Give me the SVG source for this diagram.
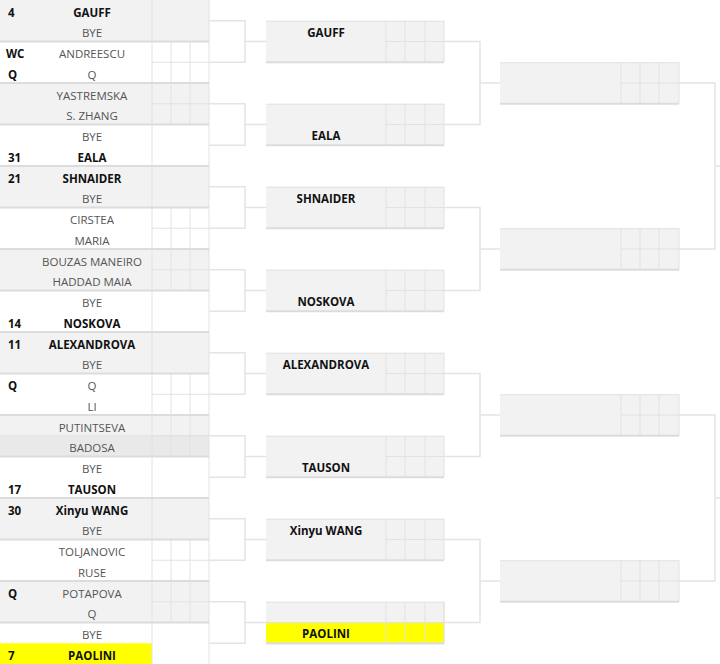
<svg xmlns="http://www.w3.org/2000/svg" width="720" height="664" viewBox="0 0 720 664">
<style>
  text { font-family: "Open Sans", "Liberation Sans", sans-serif; font-size: 11.5px; }
  .nm { text-anchor: middle; fill: #555555; }
  .b { font-weight: bold; fill: #111; }
  .sd { font-weight: bold; fill: #111; }
  .g { fill: #f2f2f2; }
  .g2 { fill: #e9e9e9; }
  .w { fill: #ffffff; }
  .y { fill: #ffff00; }
  .ln { stroke: #e2e2e2; stroke-width: 1; fill: none; }
  .sep { stroke: #dcdcdc; stroke-width: 2; fill: none; }
  .con { stroke: #e4e4e4; stroke-width: 1.5; fill: none; }
  .box { fill: #f2f2f2; }
</style>
<rect x="0" y="0" width="720" height="664" fill="#ffffff"/>

<g id="r1">
  <!-- match backgrounds -->
  <rect class="g" x="0" y="0" width="209" height="41.5"/>
  <rect class="w" x="0" y="41.5" width="209" height="41.5"/>
  <rect class="g" x="0" y="83" width="209" height="41.5"/>
  <rect class="w" x="0" y="124.5" width="209" height="41.5"/>
  <rect class="g" x="0" y="166" width="209" height="41.5"/>
  <rect class="w" x="0" y="207.5" width="209" height="41.5"/>
  <rect class="g" x="0" y="249" width="209" height="41.5"/>
  <rect class="w" x="0" y="290.5" width="209" height="41.5"/>
  <rect class="g" x="0" y="332" width="209" height="41.5"/>
  <rect class="w" x="0" y="373.5" width="209" height="41.5"/>
  <rect class="g" x="0" y="415" width="209" height="20.75"/>
  <rect class="g2" x="0" y="435.75" width="209" height="20.75"/>
  <rect class="w" x="0" y="456.5" width="209" height="41.5"/>
  <rect class="g" x="0" y="498" width="209" height="41.5"/>
  <rect class="w" x="0" y="539.5" width="209" height="41.5"/>
  <rect class="g" x="0" y="581" width="209" height="41.5"/>
  <rect class="w" x="0" y="622.5" width="209" height="41.5"/>
  <rect class="y" x="0" y="643.25" width="152" height="20.75"/>

  <!-- column lines -->
  <path class="ln" d="M152 0V664M209 0V664"/>
  <!-- score grids for played matches -->
  <path class="ln" d="M171 41.5V124.5M190 41.5V124.5M152 62.25H209M152 103.75H209"/>
  <path class="ln" d="M171 207.5V290.5M190 207.5V290.5M152 228.25H209M152 269.75H209"/>
  <path class="ln" d="M171 373.5V456.5M190 373.5V456.5M152 394.25H209M152 435.75H209"/>
  <path class="ln" d="M171 539.5V622.5M190 539.5V622.5M152 560.25H209M152 601.75H209"/>
  <!-- match separators -->
  <path class="sep" d="M0 41.5H209M0 83H209M0 124.5H209M0 166H209M0 207.5H209M0 249H209M0 290.5H209M0 332H209M0 373.5H209M0 415H209M0 456.5H209M0 498H209M0 539.5H209M0 581H209M0 622.5H209"/>
  <path class="ln" d="M0 435.75H209"/>

  <!-- seeds -->
  <text class="sd" x="8" y="17">4</text>
  <text class="sd" x="6" y="58">WC</text>
  <text class="sd" x="8" y="79">Q</text>
  <text class="sd" x="8" y="162">31</text>
  <text class="sd" x="8" y="183">21</text>
  <text class="sd" x="8" y="328">14</text>
  <text class="sd" x="8" y="349">11</text>
  <text class="sd" x="8" y="390">Q</text>
  <text class="sd" x="8" y="494">17</text>
  <text class="sd" x="8" y="515">30</text>
  <text class="sd" x="8" y="598">Q</text>
  <text class="sd" x="8" y="660">7</text>

  <!-- names -->
  <text class="nm b" x="92" y="17">GAUFF</text>
  <text class="nm" x="92" y="37">BYE</text>
  <text class="nm" x="92" y="58">ANDREESCU</text>
  <text class="nm" x="92" y="79">Q</text>
  <text class="nm" x="92" y="100">YASTREMSKA</text>
  <text class="nm" x="92" y="120">S. ZHANG</text>
  <text class="nm" x="92" y="141">BYE</text>
  <text class="nm b" x="92" y="162">EALA</text>
  <text class="nm b" x="92" y="183">SHNAIDER</text>
  <text class="nm" x="92" y="203">BYE</text>
  <text class="nm" x="92" y="224">CIRSTEA</text>
  <text class="nm" x="92" y="245">MARIA</text>
  <text class="nm" x="92" y="266">BOUZAS MANEIRO</text>
  <text class="nm" x="92" y="286">HADDAD MAIA</text>
  <text class="nm" x="92" y="307">BYE</text>
  <text class="nm b" x="92" y="328">NOSKOVA</text>
  <text class="nm b" x="92" y="349">ALEXANDROVA</text>
  <text class="nm" x="92" y="369">BYE</text>
  <text class="nm" x="92" y="390">Q</text>
  <text class="nm" x="92" y="411">LI</text>
  <text class="nm" x="92" y="432">PUTINTSEVA</text>
  <text class="nm" x="92" y="452">BADOSA</text>
  <text class="nm" x="92" y="473">BYE</text>
  <text class="nm b" x="92" y="494">TAUSON</text>
  <text class="nm b" x="92" y="515">Xinyu WANG</text>
  <text class="nm" x="92" y="535">BYE</text>
  <text class="nm" x="92" y="556">TOLJANOVIC</text>
  <text class="nm" x="92" y="577">RUSE</text>
  <text class="nm" x="92" y="598">POTAPOVA</text>
  <text class="nm" x="92" y="618">Q</text>
  <text class="nm" x="92" y="639">BYE</text>
  <text class="nm b" x="92" y="660">PAOLINI</text>
</g>

<g id="connectors">
  <path class="con" d="M209 20.75H245V62.25H209M245 41.5H266"/>
  <path class="con" d="M209 103.75H245V145.25H209M245 124.5H266"/>
  <path class="con" d="M209 186.75H245V228.25H209M245 207.5H266"/>
  <path class="con" d="M209 269.75H245V311.25H209M245 290.5H266"/>
  <path class="con" d="M209 352.75H245V394.25H209M245 373.5H266"/>
  <path class="con" d="M209 435.75H245V477.25H209M245 456.5H266"/>
  <path class="con" d="M209 518.75H245V560.25H209M245 539.5H266"/>
  <path class="con" d="M209 601.75H245V643.25H209M245 622.5H266"/>
  <path class="con" d="M444 41.5H480V124.5H444M480 83H500"/>
  <path class="con" d="M444 207.5H480V290.5H444M480 249H500"/>
  <path class="con" d="M444 373.5H480V456.5H444M480 415H500"/>
  <path class="con" d="M444 539.5H480V622.5H444M480 581H500"/>
  <path class="con" d="M679 83H715V249H679M715 166H720"/>
  <path class="con" d="M679 415H715V581H679M715 498H720"/>
</g>

<defs>
  <g id="r2box">
    <rect class="box" x="0" y="0" width="178" height="41.5"/>
    <path class="ln" d="M0 0.5H178M120 0V41.5M139 0V41.5M159 0V41.5M178 0V41.5M120 20.75H178"/>
    <path class="sep" d="M0 41.5H178"/>
  </g>
  <g id="r3box">
    <rect class="box" x="0" y="0" width="179" height="41.5"/>
    <path class="ln" d="M0 0.5H179M121 0V41.5M140 0V41.5M159 0V41.5M179 0V41.5M121 20.75H179"/>
    <path class="sep" d="M0 41.5H179"/>
  </g>
</defs>

<g id="r2-gauff"><use href="#r2box" x="266" y="20.75"/><text class="nm b" x="326" y="37">GAUFF</text></g>
<g id="r2-eala"><use href="#r2box" x="266" y="103.75"/><text class="nm b" x="326" y="140">EALA</text></g>
<g id="r2-shnaider"><use href="#r2box" x="266" y="186.75"/><text class="nm b" x="326" y="203">SHNAIDER</text></g>
<g id="r2-noskova"><use href="#r2box" x="266" y="269.75"/><text class="nm b" x="326" y="306">NOSKOVA</text></g>
<g id="r2-alexandrova"><use href="#r2box" x="266" y="352.75"/><text class="nm b" x="326" y="369">ALEXANDROVA</text></g>
<g id="r2-tauson"><use href="#r2box" x="266" y="435.75"/><text class="nm b" x="326" y="472">TAUSON</text></g>
<g id="r2-wang"><use href="#r2box" x="266" y="518.75"/><text class="nm b" x="326" y="535">Xinyu WANG</text></g>
<g id="r2-paolini">
  <use href="#r2box" x="266" y="601.75"/>
  <rect class="y" x="266" y="622.5" width="178" height="20.75"/>
  <path class="ln" d="M386 622.5V643.25M405 622.5V643.25M425 622.5V643.25M444 601.75V643.25M266 622.5H444"/>
  <path class="sep" d="M266 643.25H444"/>
  <text class="nm b" x="326" y="638">PAOLINI</text>
</g>

<g id="r3-1"><use href="#r3box" x="500" y="62.25"/></g>
<g id="r3-2"><use href="#r3box" x="500" y="228.25"/></g>
<g id="r3-3"><use href="#r3box" x="500" y="394.25"/></g>
<g id="r3-4"><use href="#r3box" x="500" y="560.25"/></g>
</svg>
